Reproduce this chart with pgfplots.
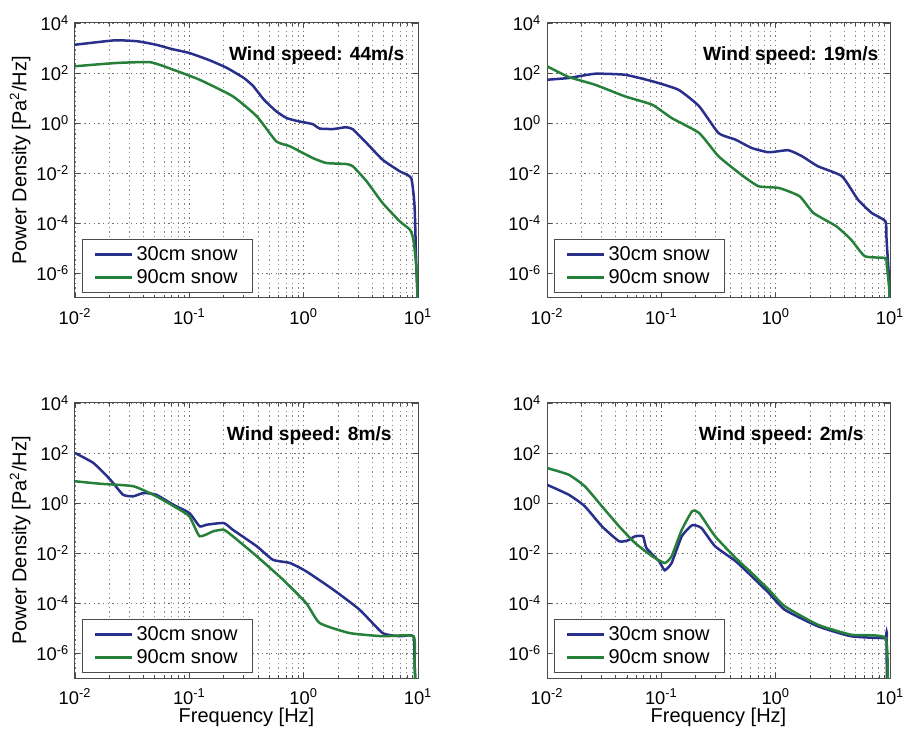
\documentclass[border=0pt]{standalone}
\usepackage{fontspec}
\setmainfont{Liberation Sans}
\usepackage{pgfplots}
\pgfplotsset{compat=1.18}
\definecolor{cblue}{RGB}{40,48,140}
\definecolor{cgreen}{RGB}{38,128,58}
\pgfplotsset{
    scale only axis,
    width=205.8pt, height=165pt,
    xmin=0.01, xmax=10, ymin=1e-7, ymax=1e4,
    xtick={0.01,0.1,1,10},
    xticklabels={10\textsuperscript{-2},10\textsuperscript{-1},10\textsuperscript{0},10\textsuperscript{1}},
    ytick={1e-6,1e-4,1e-2,1,1e2,1e4},
    yticklabels={10\textsuperscript{-6},10\textsuperscript{-4},10\textsuperscript{-2},10\textsuperscript{0},10\textsuperscript{2},10\textsuperscript{4}},
    yminorticks=false,
    tick align=inside, tick pos=both,
    xmajorgrids, xminorgrids, ymajorgrids,
    major grid style={black!55, line width=0.55pt, dash pattern=on 0.8pt off 2pt},
    minor grid style={black!45, line width=0.55pt, dash pattern=on 0.8pt off 2pt},
    axis line style={black!70, line width=0.6pt},
    major tick length=3pt, minor tick length=1.8pt,
    tick style={black!70, line width=0.5pt},
    tick label style={font=\fontsize{11}{13}\selectfont},
    xticklabel style={yshift=-3pt},
    legend style={at={(0.02,0.018)}, anchor=south west,
      font=\fontsize{12}{14}\selectfont,
      nodes={font=\fontsize{12}{14}\selectfont},
      draw=black!70, line width=0.6pt,
      inner xsep=7pt, inner ysep=2pt},
    legend cell align=left,
    legend image code/.code={\draw[#1] (0pt,0pt) -- (22pt,0pt);},
    every axis plot/.append style={line width=1.5pt, smooth, tension=0.3},
    ylabel style={font=\fontsize{12}{14}\selectfont},
    xlabel style={font=\fontsize{12}{14}\selectfont},
}
\tikzset{wtitle/.style={anchor=base east, font=\bfseries\fontsize{11.5}{13}\selectfont}}
\begin{document}
\begin{tikzpicture}
\useasboundingbox (0pt,0pt) rectangle (542.4pt,441pt);
% ---------- top left: 44 m/s
\begin{loglogaxis}[at={(45pt,262.2pt)}, anchor=south west,
  ylabel={Power Density [Pa\textsuperscript{2}/Hz]},
  ylabel style={at={(axis description cs:-0.16,0.5)}, anchor=center}]
\addplot[cblue] coordinates {(0.01,1350)(0.0155,1700)(0.0229,2040)(0.035,1860)(0.0513,1350)(0.07,912)(0.1,631)(0.15,324)(0.214,158)(0.3,63)(0.363,29.5)(0.45,8.5)(0.575,2.95)(0.708,1.58)(0.9,1.17)(1.2,0.9)(1.38,0.6)(1.82,0.575)(2.34,0.676)(2.69,0.56)(3.55,0.158)(4.9,0.0339)(6.92,0.0117)(8.71,0.0063)(9.33,4.68e-4)(9.66,2e-6)(10,5e-8)};
\addplot[cgreen] coordinates {(0.01,186)(0.0229,251)(0.0457,269)(0.0724,135)(0.123,53.7)(0.24,11.7)(0.389,1.86)(0.575,0.186)(0.759,0.117)(1.2,0.0398)(1.58,0.0251)(2.34,0.0229)(2.69,0.0186)(3.55,4.68e-3)(4.9,6.31e-4)(6.92,1.17e-4)(8.51,5.37e-5)(9.12,2.14e-5)(9.66,1.86e-6)(10,5e-8)};
\legend{30cm snow,90cm snow}
\node[wtitle] at (rel axis cs:0.977,0.865) {Wind speed: 44m/s};
\end{loglogaxis}
% ---------- top right: 19 m/s
\begin{loglogaxis}[at={(328.2pt,262.2pt)}, anchor=south west]
\addplot[cblue] coordinates {(0.01,53.7)(0.0155,63.1)(0.0263,93.3)(0.0479,85.1)(0.0832,46.8)(0.141,21.4)(0.214,4.68)(0.316,0.398)(0.447,0.214)(0.617,0.1)(0.871,0.0676)(1.29,0.0813)(1.7,0.0468)(2.34,0.0186)(3.8,7.41e-3)(5.25,8.51e-4)(6.92,2.51e-4)(9.12,1.17e-4)(9.33,2.14e-5)(9.77,7.41e-7)(10,5e-8)};
\addplot[cgreen] coordinates {(0.01,186)(0.0155,69.2)(0.0263,33.9)(0.0479,11.7)(0.0832,5.37)(0.123,1.58)(0.214,0.398)(0.316,0.0468)(0.501,8.51e-3)(0.708,2.95e-3)(1.07,2.51e-3)(1.62,1.17e-3)(2.14,2.51e-4)(3.39,7.41e-5)(4.57,2.14e-5)(6.03,4.68e-6)(9.12,3.98e-6)(9.33,2.51e-6)(9.8,3e-7)(10,5e-8)};
\legend{30cm snow,90cm snow}
\node[wtitle] at (rel axis cs:0.983,0.865) {Wind speed: 19m/s};
\end{loglogaxis}
% ---------- bottom left: 8 m/s
\begin{loglogaxis}[at={(45pt,34.2pt)}, anchor=south west,
  ylabel={Power Density [Pa\textsuperscript{2}/Hz]}, xlabel={Frequency [Hz]},
  ylabel style={at={(axis description cs:-0.16,0.5)}, anchor=center},
  xlabel style={at={(axis description cs:0.5,-0.142)}, anchor=center}]
\addplot[cblue] coordinates {(0.01,100)(0.0145,39.8)(0.0204,8.51)(0.0263,2.14)(0.0324,1.86)(0.0398,2.51)(0.0513,2.14)(0.0724,0.851)(0.1,0.398)(0.123,0.117)(0.141,0.135)(0.2,0.158)(0.24,0.0851)(0.389,0.0186)(0.537,5.37e-3)(0.759,3.98e-3)(1.05,1.86e-3)(1.82,3.39e-4)(3.09,5.37e-5)(4.9,6.31e-6)(6.92,4.68e-6)(9.12,4.68e-6)(9.33,4e-7)(9.5,5e-8)};
\addplot[cgreen] coordinates {(0.01,7.41)(0.0166,5.89)(0.0324,4.68)(0.0513,1.86)(0.0776,0.631)(0.1,0.295)(0.123,0.0468)(0.162,0.0741)(0.2,0.0851)(0.24,0.0468)(0.389,7.41e-3)(0.661,8.51e-4)(1.05,1e-4)(1.38,1.58e-5)(2.51,6.31e-6)(4.9,4.68e-6)(9.12,4.68e-6)(9.33,4e-7)(9.5,5e-8)};
\legend{30cm snow,90cm snow}
\node[wtitle] at (rel axis cs:0.94,0.865) {Wind speed: 8m/s};
\end{loglogaxis}
% ---------- bottom right: 2 m/s
\begin{loglogaxis}[at={(328.2pt,34.2pt)}, anchor=south west, xlabel={Frequency [Hz]},
  xlabel style={at={(axis description cs:0.5,-0.142)}, anchor=center}]
\addplot[cblue] coordinates {(0.01,5.37)(0.0155,2.14)(0.0214,0.741)(0.0302,0.117)(0.0427,0.0295)(0.0513,0.0324)(0.0589,0.0468)(0.0692,0.0468)(0.0741,0.0158)(0.0955,4.68e-3)(0.107,2.04e-3)(0.123,3.98e-3)(0.151,0.0468)(0.186,0.129)(0.224,0.1)(0.295,0.0186)(0.447,4.68e-3)(0.617,1.17e-3)(0.871,2.51e-4)(1.2,5.37e-5)(2.34,1.17e-5)(4.57,4.68e-6)(9.12,3.98e-6)(9.3,6.31e-6)(9.4,5e-8)};
\addplot[cgreen] coordinates {(0.01,25.1)(0.0155,13.5)(0.0214,4.68)(0.0302,0.741)(0.0427,0.117)(0.0589,0.0251)(0.0832,7.41e-3)(0.107,3.98e-3)(0.123,7.41e-3)(0.151,0.0851)(0.186,0.468)(0.214,0.398)(0.295,0.0468)(0.447,6.31e-3)(0.617,1.58e-3)(0.871,3.39e-4)(1.2,7.41e-5)(2.34,1.35e-5)(4.57,5.37e-6)(9.12,3.98e-6)(9.5,5e-8)};
\legend{30cm snow,90cm snow}
\node[wtitle] at (rel axis cs:0.94,0.865) {Wind speed: 2m/s};
\end{loglogaxis}
\end{tikzpicture}
\end{document}
